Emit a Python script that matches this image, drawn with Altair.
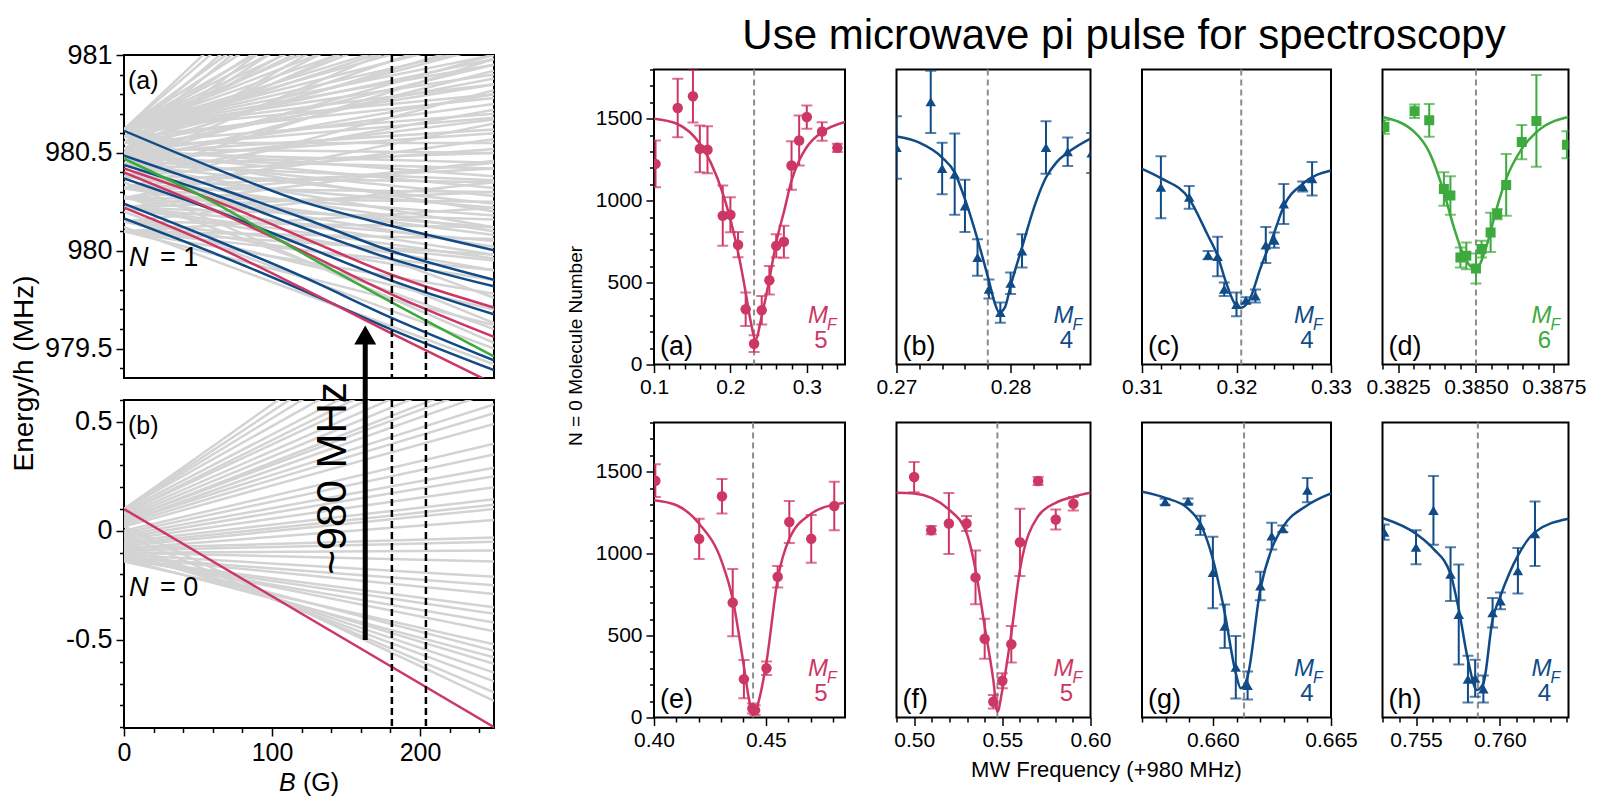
import altair as alt
import pandas as pd

FONT = "Liberation Sans"
PINK = "#cd3764"
BLUE = "#104b87"
GREEN = "#3caa3c"
LGRAY = "#d3d3d3"
DGRAY = "#8c8c8c"

# ---------------- Left (a): N = 1 manifold, energy (MHz) at B = 0 and B = 250 G ----------------
N1_GRAY_START = [980.62, 980.62, 980.62, 980.62, 980.62, 980.62, 980.62, 980.62, 980.62, 980.62,
                 980.55, 980.55, 980.55, 980.55, 980.55, 980.55, 980.55,
                 980.50, 980.50, 980.50, 980.50, 980.50, 980.50, 980.50, 980.50, 980.50,
                 980.44, 980.44, 980.44, 980.44, 980.44, 980.44, 980.44,
                 980.32, 980.32, 980.32, 980.32, 980.32, 980.32, 980.32,
                 980.22, 980.22, 980.22, 980.22, 980.22, 980.22,
                 980.10, 980.10, 980.10, 980.10, 980.10, 980.10,
                 980.45, 980.40, 980.35, 980.28, 980.20, 980.12,
                 980.62, 980.62, 980.62, 980.62, 980.62, 980.62, 980.62, 980.62, 980.62,
                 980.58, 980.58, 980.58, 980.58, 980.58, 980.58,
                 980.52, 980.52, 980.52, 980.52, 980.52, 980.52, 980.52,
                 980.47, 980.47, 980.47, 980.47, 980.47, 980.47,
                 980.38, 980.38, 980.38, 980.38, 980.38, 980.38,
                 980.27, 980.27, 980.27, 980.27, 980.27,
                 980.15, 980.15, 980.15, 980.15, 980.15]
N1_GRAY_END = [982.40, 982.00, 981.70, 981.50, 981.35, 981.20, 981.10, 981.00, 980.90, 980.80,
               982.10, 981.60, 981.30, 981.05, 980.85, 980.70, 980.55,
               981.90, 981.45, 981.15, 980.95, 980.75, 980.62, 980.45, 980.32, 980.20,
               981.25, 980.92, 980.67, 980.50, 980.36, 980.24, 980.12,
               980.82, 980.57, 980.42, 980.30, 980.18, 980.08, 980.02,
               980.46, 980.30, 980.16, 980.05, 979.96, 979.90,
               980.22, 980.06, 979.98, 979.90, 979.78, 979.62,
               979.76, 979.63, 979.53, 979.60, 979.50, 979.42,
               982.25, 981.85, 981.60, 981.42, 981.28, 981.15, 981.05, 980.95, 980.85,
               982.20, 981.80, 981.50, 981.20, 980.98, 980.78,
               981.75, 981.35, 981.08, 980.88, 980.68, 980.50, 980.38,
               981.55, 981.00, 980.80, 980.60, 980.42, 980.28,
               980.98, 980.72, 980.52, 980.35, 980.22, 980.10,
               980.65, 980.45, 980.25, 980.12, 979.98,
               980.35, 980.12, 979.95, 979.85, 979.70]

N1_B = [0, 60, 120, 180, 250]
N1_BLUE_1 = [980.613, 980.425, 980.252, 980.128, 980.003]
N1_BLUE_2 = [980.486, 980.330, 980.170, 980.000, 979.852]
N1_BLUE_3 = [980.438, 980.290, 980.120, 979.960, 979.818]
N1_BLUE_4 = [980.370, 980.210, 980.030, 979.850, 979.675]
N1_BLUE_5 = [980.240, 980.060, 979.870, 979.660, 979.440]
N1_BLUE_6 = [980.165, 979.990, 979.800, 979.600, 979.390]
N1_PINK_1 = [980.420, 980.260, 980.070, 979.880, 979.710]
N1_PINK_2 = [980.400, 980.210, 980.000, 979.780, 979.560]
N1_PINK_3 = [980.220, 980.030, 979.810, 979.580, 979.320]
N1_GREEN = [980.470, 980.250, 979.990, 979.740, 979.460]

# ---------------- Left (b): N = 0 manifold ----------------
N0_GRAY_START = [0.10, 0.10, 0.09, 0.08, 0.07, 0.06, 0.05, 0.04, 0.03, 0.02, 0.00, -0.02, -0.03,
                 -0.05, -0.06, -0.07, -0.08, -0.09, -0.10, -0.11, -0.12, -0.13, -0.13, -0.12,
                 -0.14, -0.13, -0.10, -0.06, 0.02,
                 0.10, 0.10, 0.08, 0.05, 0.04, -0.01, -0.04, -0.08, -0.10, -0.12, -0.13, -0.11,
                 -0.08, -0.02]
N0_GRAY_END = [1.14, 1.05, 0.97, 0.87, 0.81, 0.76, 0.71, 0.64, 0.54, 0.49, 0.40, 0.29, 0.25,
               0.145, 0.12, 0.10, -0.03, -0.05, -0.14, -0.21, -0.29, -0.35, -0.38, -0.46,
               -0.52, -0.58, -0.61, -0.69, -0.78,
               1.30, 1.22, 0.92, 0.68, 0.58, 0.35, 0.20, 0.05, -0.09, -0.25, -0.42, -0.55,
               -0.65, -0.74]
N0_PINK_B = [0, 250]
N0_PINK = [0.10, -0.90]

DASH_B = [181, 204]
ARROW_B = [163]
ARROW_FROM = [-0.5]
ARROW_TO = [0.875]
ARROW_HEAD = [0.898]
ARROW_TEXT = ["~980 MHz"]
ARROW_TEXT_B = [141]
ARROW_TEXT_E = [0.24]

# ---------------- Right: spectroscopy panels ----------------
PANELS = {
    "a": dict(x=[0.102, 0.131, 0.151, 0.160, 0.170, 0.190, 0.200, 0.210, 0.220, 0.231, 0.241, 0.251, 0.260, 0.270, 0.280, 0.290, 0.300, 0.320, 0.340],
              y=[1224, 1565, 1637, 1316, 1310, 908, 914, 731, 337, 127, 331, 514, 724, 749, 1214, 1367, 1510, 1422, 1322],
              e=[143, 178, 160, 143, 143, 184, 107, 77, 102, 51, 87, 87, 71, 97, 148, 153, 71, 56, 25],
              fx=[0.100, 0.130, 0.160, 0.174, 0.191, 0.201, 0.211, 0.220, 0.226, 0.233, 0.241, 0.251, 0.260, 0.271, 0.280, 0.290, 0.300, 0.320, 0.350],
              fy=[1500, 1469, 1347, 1235, 1031, 867, 663, 439, 276, 153, 296, 520, 745, 949, 1122, 1245, 1327, 1418, 1480],
              c=0.231, dom=[0.1, 0.35], xt=(0.1, 0.34, 0.02), major=0.1, fmt="~g",
              color=PINK, shape="circle", mf="5"),
    "b": dict(x=[0.2700, 0.2730, 0.2740, 0.2751, 0.2760, 0.2771, 0.2781, 0.2791, 0.2800, 0.2810, 0.2831, 0.2850, 0.2871],
              y=[1324, 1603, 1196, 1161, 968, 653, 460, 317, 496, 693, 1324, 1298, 1290],
              e=[190, 190, 157, 248, 160, 112, 58, 62, 66, 101, 160, 87, 122],
              fx=[0.2700, 0.2720, 0.2740, 0.2751, 0.2760, 0.2771, 0.2781, 0.2786, 0.2790, 0.2795, 0.2800, 0.2810, 0.2821, 0.2831, 0.2840, 0.2850, 0.2870],
              fy=[1391, 1354, 1263, 1171, 1009, 764, 510, 378, 317, 348, 480, 714, 968, 1141, 1232, 1293, 1379],
              c=0.278, dom=[0.27, 0.287], xt=(0.27, 0.286, 0.002), major=0.01, fmt="~g",
              color=BLUE, shape="triangle-up", mf="4"),
    "c": dict(x=[0.3120, 0.3150, 0.3170, 0.3180, 0.3187, 0.3200, 0.3210, 0.3220, 0.3231, 0.3240, 0.3250, 0.3270, 0.3280],
              y=[1082, 1020, 667, 659, 459, 367, 392, 418, 729, 759, 980, 1086, 1133],
              e=[189, 69, 25, 120, 41, 73, 18, 39, 110, 46, 122, 30, 102],
              fx=[0.3100, 0.3120, 0.3150, 0.3169, 0.3180, 0.3189, 0.3200, 0.3205, 0.3214, 0.3225, 0.3240, 0.3250, 0.3270, 0.3300],
              fy=[1194, 1137, 1010, 796, 663, 500, 357, 347, 398, 582, 806, 965, 1102, 1184],
              c=0.3205, dom=[0.31, 0.33], xt=(0.31, 0.33, 0.002), major=0.01, fmt="~g",
              color=BLUE, shape="triangle-up", mf="4"),
    "d": dict(x=[0.38206, 0.38303, 0.38350, 0.38397, 0.38418, 0.38450, 0.38469, 0.38500, 0.38518, 0.38547, 0.38568, 0.38597, 0.38647, 0.38694, 0.38792],
              y=[1449, 1545, 1490, 1071, 1031, 653, 663, 586, 704, 806, 918, 1096, 1357, 1486, 1341],
              e=[41, 41, 100, 102, 117, 61, 82, 92, 51, 120, 31, 189, 104, 280, 82],
              fx=[0.38200, 0.38303, 0.38350, 0.38397, 0.38429, 0.38461, 0.38500, 0.38534, 0.38566, 0.38597, 0.38647, 0.38694, 0.38797],
              fy=[1510, 1418, 1296, 1051, 837, 663, 582, 724, 949, 1133, 1316, 1418, 1510],
              c=0.385, dom=[0.382, 0.38797], xt=(0.382, 0.3875, 0.0005), major=0.0025, fmt=".4f",
              color=GREEN, shape="square", mf="6"),
    "e": dict(x=[0.4006, 0.4202, 0.4304, 0.4352, 0.4402, 0.4440, 0.4452, 0.4503, 0.4553, 0.4605, 0.4703, 0.4806],
              y=[1445, 1090, 1350, 701, 234, 55, 45, 301, 859, 1193, 1090, 1291],
              e=[100, 123, 105, 205, 117, 30, 30, 41, 66, 128, 146, 148],
              fx=[0.4000, 0.4101, 0.4202, 0.4304, 0.4352, 0.4402, 0.4425, 0.4443, 0.4460, 0.4477, 0.4503, 0.4553, 0.4605, 0.4703, 0.4806, 0.4854],
              fy=[1326, 1295, 1182, 947, 721, 311, 110, 14, 60, 150, 340, 844, 1090, 1244, 1299, 1311],
              c=0.4443, dom=[0.40, 0.4854], xt=(0.40, 0.48, 0.01), major=0.05, fmt=".2f",
              color=PINK, shape="circle", mf="5"),
    "f": dict(x=[0.5000, 0.5097, 0.5197, 0.5297, 0.5348, 0.5400, 0.5449, 0.5500, 0.5551, 0.5600, 0.5703, 0.5803, 0.5903],
              y=[1467, 1143, 1184, 1184, 855, 480, 96, 224, 447, 1069, 1443, 1208, 1304],
              e=[92, 25, 186, 46, 164, 122, 41, 46, 112, 205, 25, 61, 41],
              fx=[0.4898, 0.5000, 0.5197, 0.5297, 0.5348, 0.5400, 0.5449, 0.5472, 0.5500, 0.5551, 0.5600, 0.5703, 0.5803, 0.5903, 0.6000],
              fy=[1371, 1367, 1269, 1127, 902, 555, 228, 35, 167, 514, 902, 1228, 1310, 1347, 1371],
              c=0.5472, dom=[0.49, 0.60], xt=(0.49, 0.60, 0.01), major=0.05, fmt=".2f",
              color=PINK, shape="circle", mf="5"),
    "g": dict(x=[0.65798, 0.65895, 0.65947, 0.66000, 0.66050, 0.66097, 0.66147, 0.66201, 0.66249, 0.66296, 0.66400],
              y=[1316, 1320, 1172, 885, 557, 307, 195, 803, 1107, 1152, 1387],
              e=[18, 16, 59, 218, 133, 191, 85, 87, 82, 20, 74],
              fx=[0.65700, 0.65798, 0.65895, 0.65947, 0.66000, 0.66050, 0.66097, 0.66118, 0.66147, 0.66201, 0.66249, 0.66296, 0.66400, 0.66500],
              fy=[1377, 1340, 1275, 1182, 967, 639, 270, 178, 250, 783, 1029, 1162, 1295, 1367],
              c=0.66132, dom=[0.657, 0.665], xt=(0.657, 0.665, 0.001), major=0.005, fmt=".3f",
              color=BLUE, shape="triangle-up", mf="4"),
    "h": dict(x=[0.7531, 0.7550, 0.75604, 0.75706, 0.75755, 0.7581, 0.75853, 0.75902, 0.75957, 0.76004, 0.76108, 0.7621],
              y=[1131, 1039, 1264, 875, 629, 234, 240, 174, 639, 711, 895, 1121],
              e=[46, 104, 210, 164, 305, 143, 113, 82, 90, 51, 139, 197],
              fx=[0.7530, 0.7550, 0.75604, 0.75706, 0.75755, 0.7581, 0.75863, 0.75902, 0.75957, 0.76004, 0.76108, 0.7621, 0.76412],
              fy=[1217, 1121, 1029, 875, 660, 352, 168, 209, 598, 742, 988, 1131, 1213],
              c=0.75869, dom=[0.753, 0.7641], xt=(0.753, 0.764, 0.001), major=0.005, fmt=".3f",
              color=BLUE, shape="triangle-up", mf="4"),
}

TITLE = "Use microwave pi pulse for spectroscopy"
X_TITLE = "MW Frequency (+980 MHz)"
Y_TITLE = "N = 0 Molecule Number"


def ticks(lo, hi, step):
    n = int(round((hi - lo) / step))
    return [round(lo + k * step, 7) for k in range(n + 1)]


def make_axis(values, major, fmt, size, **kw):
    test = f"abs(datum.value / {major} - round(datum.value / {major})) < 1e-6"
    label = f"({test}) ? ((datum.value < 0 ? '-' : '') + format(abs(datum.value), '{fmt}')) : ''"
    base = dict(values=values, labelExpr=label,
                tickSize={"condition": {"test": test, "value": 8}, "value": 4.5},
                tickColor="black", tickWidth=1.5, domain=False, grid=False,
                labelFont=FONT, labelFontSize=size, labelColor="black",
                labelOverlap=False, labelFlush=False, labelPadding=4, title=None,
                titleFont=FONT, titleFontWeight="normal", titleColor="black")
    base.update(kw)
    return alt.Axis(**base)


def text_layer(t, x, y, size, color="black", align="left", italic=False, baseline="alphabetic"):
    return alt.Chart(pd.DataFrame({"t": [t]})).mark_text(
        font=FONT, fontSize=size, color=color, align=align, baseline=baseline,
        fontStyle="italic" if italic else "normal").encode(
        text="t:N", x=alt.value(x), y=alt.value(y))


def spacer(W, H, L, R, T, B):
    # invisible segment that fixes the outer box of a block (left, right, top, bottom extents)
    return alt.Chart(pd.DataFrame({"k": [0]})).mark_rule(opacity=0, strokeWidth=1).encode(
        x=alt.value(-L), x2=alt.value(W + R), y=alt.value(-T), y2=alt.value(H + B))


def lines_df(starts, ends):
    rows = []
    for i, (s, e) in enumerate(zip(starts, ends)):
        rows.append({"id": i, "B": 0, "E": s})
        rows.append({"id": i, "B": 250, "E": e})
    return pd.DataFrame(rows)


# ---------------- build left panels ----------------
LW, LHA, LHB = 370, 323, 328
xs_left = alt.Scale(domain=[0, 250], nice=False)

ys_a = alt.Scale(domain=[979.35, 981.0], nice=False, zero=False)
yax_a = make_axis(ticks(979.4, 981.0, 0.1), 0.5, "~g", 27, title="Energy/h (MHz)",
                  titleFontSize=28, titleY=318, titlePadding=6)
colored = []
for cid, (col, vals) in enumerate([(BLUE, N1_BLUE_1), (BLUE, N1_BLUE_2), (BLUE, N1_BLUE_3),
                                   (BLUE, N1_BLUE_4), (BLUE, N1_BLUE_5), (BLUE, N1_BLUE_6),
                                   (PINK, N1_PINK_1), (PINK, N1_PINK_2), (PINK, N1_PINK_3),
                                   (GREEN, N1_GREEN)]):
    for b, v in zip(N1_B, vals):
        colored.append({"id": cid, "B": b, "E": v, "col": col})
colored_df = pd.DataFrame(colored)

Xa = alt.X("B:Q", scale=xs_left, axis=None)
gray_a = alt.Chart(lines_df(N1_GRAY_START, N1_GRAY_END)).mark_line(
    color=LGRAY, strokeWidth=2.5, clip=True).encode(
    x=Xa, y=alt.Y("E:Q", scale=ys_a, axis=yax_a), detail="id:N")
col_a = alt.Chart(colored_df).mark_line(strokeWidth=2.5, clip=True, interpolate="monotone").encode(
    x=Xa, y=alt.Y("E:Q", scale=ys_a, axis=yax_a), detail="id:N", color=alt.Color("col:N", scale=None))
dash_a = alt.Chart(pd.DataFrame({"B": DASH_B})).mark_rule(
    color="black", strokeDash=[7, 4], strokeWidth=2.5).encode(x=Xa)
left_a = alt.layer(gray_a, col_a, dash_a,
                   text_layer("(a)", 4, 34, 25),
                   text_layer("N", 5, 211, 27, italic=True),
                   text_layer("= 1", 36, 211, 27),
                   spacer(LW, LHA, 114, 5, 45, 0)).properties(width=LW, height=LHA)

ys_b = alt.Scale(domain=[-0.904, 0.6], nice=False, zero=False)
yax_b = make_axis(ticks(-0.9, 0.6, 0.1), 0.5, "~g", 27)
xax_b = make_axis(ticks(0, 240, 20), 100, "d", 25)
Xb = alt.X("B:Q", scale=xs_left, axis=xax_b)
Yb = lambda f: alt.Y(f, scale=ys_b, axis=yax_b)
gray_b = alt.Chart(lines_df(N0_GRAY_START, N0_GRAY_END)).mark_line(
    color=LGRAY, strokeWidth=2.5, clip=True).encode(x=Xb, y=Yb("E:Q"), detail="id:N")
pink_b = alt.Chart(pd.DataFrame({"B": N0_PINK_B, "E": N0_PINK})).mark_line(
    color=PINK, strokeWidth=2.5, clip=True).encode(x=Xb, y=Yb("E:Q"))
dash_b = alt.Chart(pd.DataFrame({"B": DASH_B})).mark_rule(
    color="black", strokeDash=[7, 4], strokeWidth=2.5).encode(x=Xb)
arrow_df = pd.DataFrame({"B": ARROW_B, "y1": ARROW_FROM, "y2": ARROW_TO, "h": ARROW_HEAD})
arrow = alt.Chart(arrow_df).mark_rule(color="black", strokeWidth=5, clip=False).encode(
    x=Xb, y=Yb("y1:Q"), y2="y2:Q")
head = alt.Chart(arrow_df).mark_point(shape="triangle-up", filled=True, size=480, color="black",
                                      opacity=1, clip=False).encode(x=Xb, y=Yb("h:Q"))
arrow_txt = alt.Chart(pd.DataFrame({"B": ARROW_TEXT_B, "E": ARROW_TEXT_E, "t": ARROW_TEXT})).mark_text(
    font=FONT, fontSize=42, angle=270, align="center", baseline="middle", color="black").encode(
    x=Xb, y=Yb("E:Q"), text="t:N")
left_b = alt.layer(gray_b, pink_b, dash_b, arrow, head, arrow_txt,
                   text_layer("(b)", 4, 34, 25),
                   text_layer("N", 5, 196, 27, italic=True),
                   text_layer("= 0", 36, 196, 27),
                   text_layer("B", 155, 391, 25, italic=True),
                   text_layer("(G)", 179, 391, 25),
                   spacer(LW, LHB, 114, 5, 0, 86)).properties(width=LW, height=LHB)

left = alt.vconcat(left_a, left_b, spacing=22, bounds="flush")

# ---------------- build right panels ----------------
RH = 295


def spectro(key, width, show_y=False, extra=()):
    d = PANELS[key]
    xs = alt.Scale(domain=d["dom"], nice=False, zero=False)
    ys = alt.Scale(domain=[0, 1800], nice=False)
    xax = make_axis(ticks(*d["xt"]), d["major"], d["fmt"], 21)
    if show_y:
        ykw = {}
        if key == "a":
            ykw = dict(title=Y_TITLE, titleFontSize=19, titleY=276, titlePadding=10)
        yax = make_axis(ticks(0, 1800, 100), 500, "d", 21, **ykw)
    else:
        yax = None
    X = alt.X("x:Q", scale=xs, axis=xax)
    col = d["color"]
    pts = pd.DataFrame({"x": d["x"], "y": d["y"],
                        "lo": [a - b for a, b in zip(d["y"], d["e"])],
                        "hi": [a + b for a, b in zip(d["y"], d["e"])]})
    fit = pd.DataFrame({"x": d["fx"], "y": d["fy"]})
    dash = alt.Chart(pd.DataFrame({"x": [d["c"]]})).mark_rule(
        color=DGRAY, strokeDash=[6, 4], strokeWidth=2).encode(x=X)
    fitl = alt.Chart(fit).mark_line(color=col, strokeWidth=2.5, interpolate="monotone", clip=True).encode(
        x=X, y=alt.Y("y:Q", scale=ys, axis=yax))
    err = alt.Chart(pts).mark_errorbar(color=col, ticks=True, thickness=2, size=11, clip=True).encode(
        x=X, y=alt.Y("lo:Q", scale=ys, axis=yax), y2="hi:Q")
    size = 100 if d["shape"] == "square" else 110
    pt = alt.Chart(pts).mark_point(filled=True, shape=d["shape"], size=size, color=col,
                                   opacity=1, clip=True).encode(x=X, y=alt.Y("y:Q", scale=ys, axis=yax))
    return alt.layer(
        dash, fitl, err, pt,
        text_layer(f"({key})", 6, RH - 10, 27),
        text_layer("M", width - 17, RH - 42, 24, color=col, align="right", italic=True),
        text_layer("F", width - 18, RH - 35, 16, color=col, align="left", italic=True),
        text_layer(d["mf"], width - 24, RH - 17, 24, color=col, align="center"),
        *extra,
    ).properties(width=width, height=RH)


WA, WB, WC, WD = 191, 194, 189, 186
right = alt.concat(
    spectro("a", WA, show_y=True, extra=(text_layer(TITLE, 470, -21, 42, align="center"),
                                         spacer(WA, RH, 100, 0, 58, 0))),
    spectro("b", WB), spectro("c", WC), spectro("d", WD),
    spectro("e", WA, show_y=True, extra=(spacer(WA, RH, 100, 0, 0, 82),)),
    spectro("f", WB, extra=(text_layer(X_TITLE, 210, RH + 59, 22, align="center"),)),
    spectro("g", WC), spectro("h", WD),
    columns=4, spacing={"row": 58, "column": 51.5}, bounds="flush")

chart = alt.hconcat(left, right, spacing=53, center=True).properties(
    padding={"left": 9, "top": 9, "right": 0, "bottom": 0}
).configure(font=FONT).configure_view(stroke="black", strokeWidth=2)

chart.save("out.html", embed_options={"renderer": "svg", "actions": False})
